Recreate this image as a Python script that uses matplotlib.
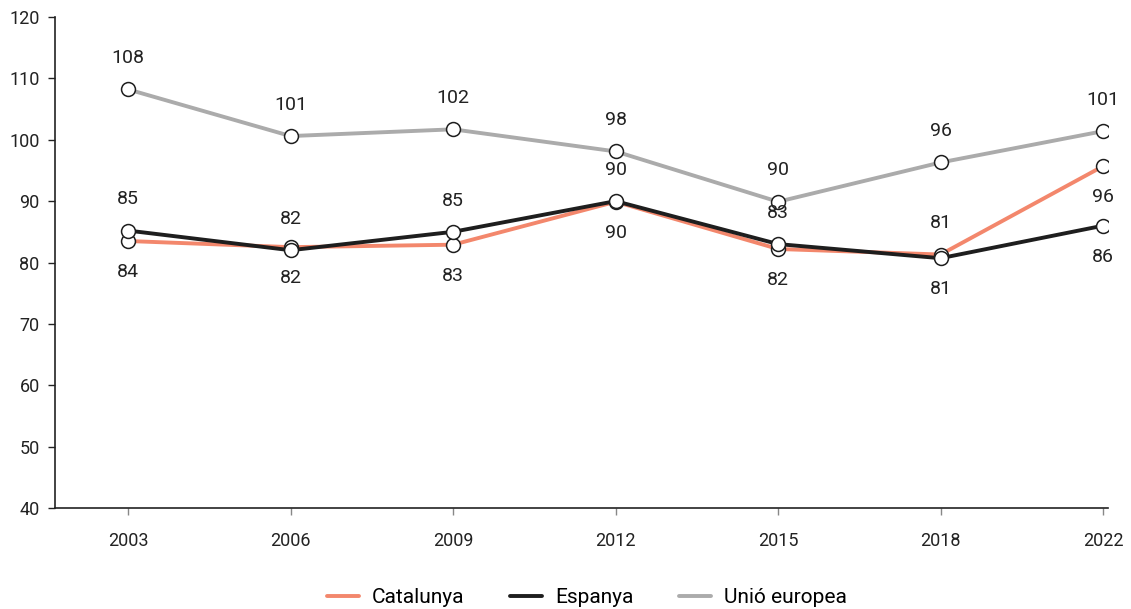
import matplotlib
matplotlib.use("Agg")
import matplotlib.pyplot as plt

plt.rcParams['font.family'] = ['Roboto', 'DejaVu Sans']

years = ["2003", "2006", "2009", "2012", "2015", "2018", "2022"]
catalunya = [83.5, 82.5, 82.9, 89.9, 82.2, 81.3, 95.7]
espanya = [85.2, 82.0, 85.0, 90.0, 83.0, 80.7, 86.0]
ue = [108.2, 100.6, 101.7, 98.1, 89.9, 96.3, 101.4]

cat_labels = ["84", "82", "83", "90", "82", "81", "96"]
esp_labels = ["85", "82", "85", "90", "83", "81", "86"]
ue_labels = ["108", "101", "102", "98", "90", "96", "101"]

# label placement: 1 above, -1 below
cat_side = [-1, -1, -1, -1, -1, 1, -1]
esp_side = [1, 1, 1, 1, 1, -1, -1]
ue_side = [1, 1, 1, 1, 1, 1, 1]

series_names = ["Catalunya", "Espanya", "Unió europea"]
colors = ["#F3876C", "#1E1E1E", "#ABABAB"]

fig = plt.figure(figsize=(11.31, 6.09), dpi=100)
ax = fig.add_axes([55 / 1131, 101 / 609, (1108 - 55) / 1131, (508 - 17) / 609])

x = list(range(len(years)))
data = [catalunya, espanya, ue]
labels = [cat_labels, esp_labels, ue_labels]
sides = [cat_side, esp_side, ue_side]
zorders = [3, 4, 2]

for vals, labs, side, name, col, z in zip(data, labels, sides, series_names, colors, zorders):
    ax.plot(x, vals, color=col, lw=2.8, zorder=z, label=name, solid_capstyle='round')
    ax.plot(x, vals, ls='none', marker='o', ms=10, mfc='white', mec='#1E1E1E', mew=1.1, zorder=z + 0.5)
    for xi, v, t, s in zip(x, vals, labs, side):
        ax.annotate(t, (xi, v), xytext=(0, 22.5 * s), textcoords='offset points',
                    ha='center', va='center', fontsize=14, color='#222222')

ax.set_xlim(-0.45, 6.03)
ax.set_ylim(40, 120)
ax.set_yticks(range(40, 121, 10))
ax.set_xticks(x)
ax.set_xticklabels(years)
for s in ['top', 'right']:
    ax.spines[s].set_visible(False)
for s in ['left', 'bottom']:
    ax.spines[s].set_color('#222222')
    ax.spines[s].set_linewidth(1.2)
ax.tick_params(axis='y', length=5, width=1, color='#222222', labelsize=13, labelcolor='#222222', pad=6)
ax.tick_params(axis='x', length=5, width=1, color='#888888', labelsize=13, labelcolor='#222222', pad=12)

ax.legend(loc='upper center', bbox_to_anchor=(0.505, -0.163), ncol=3, frameon=False,
          fontsize=15, handlelength=1.55, columnspacing=2.2, handletextpad=0.6,
          borderaxespad=0, borderpad=0)

fig.savefig("out.png", dpi=100)
